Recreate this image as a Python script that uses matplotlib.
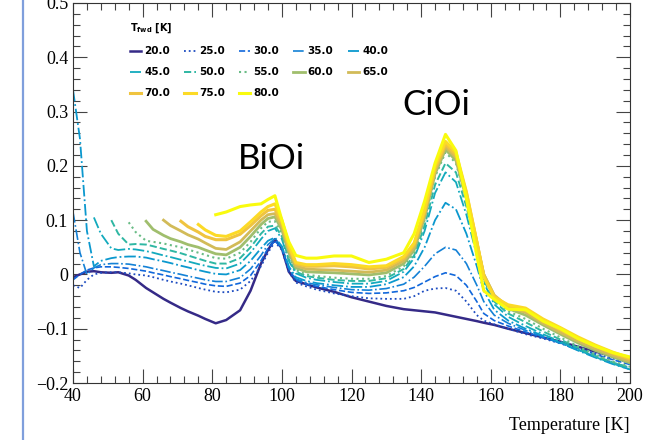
import numpy as np
import matplotlib
matplotlib.use('Agg')
import matplotlib.pyplot as plt
from matplotlib.colors import LinearSegmentedColormap
from matplotlib.lines import Line2D
from matplotlib.ticker import MultipleLocator

nan = np.nan

temps = [40, 42, 44, 46, 48, 51, 53, 56, 58, 61, 63, 66, 68, 71, 73, 76, 78, 81, 84, 88,
         91, 94, 96, 98, 100, 102, 104, 107, 110, 115, 120, 125, 130, 135, 138, 141, 144, 147, 150, 153,
         156, 158, 161, 165, 170, 175, 180, 185, 190, 195, 200]

t_fwd = [20, 25, 30, 35, 40, 45, 50, 55, 60, 65, 70, 75, 80]

s20 = [-0.005, 0.0, 0.005, 0.006, 0.004, 0.003, 0.004, -0.002, -0.01, -0.025, -0.033, -0.045, -0.052, -0.062, -0.068, -0.076, -0.082, -0.09, -0.084, -0.066,
       -0.03, 0.02, 0.045, 0.065, 0.048, 0.005, -0.012, -0.018, -0.024, -0.032, -0.042, -0.05, -0.058, -0.064, -0.066, -0.068, -0.07, -0.074, -0.078, -0.082,
       -0.086, -0.089, -0.093, -0.1, -0.108, -0.116, -0.124, -0.133, -0.142, -0.151, -0.16]
s25 = [-0.02, -0.025, -0.01, 0.0, 0.003, 0.004, 0.004, 0.002, 0.0, -0.002, -0.005, -0.01, -0.013, -0.017, -0.02, -0.025, -0.028, -0.032, -0.033, -0.028,
       -0.012, 0.015, 0.04, 0.06, 0.045, 0.005, -0.015, -0.022, -0.028, -0.035, -0.04, -0.044, -0.045, -0.045, -0.04, -0.03, -0.026, -0.025, -0.03, -0.05,
       -0.075, -0.085, -0.092, -0.1, -0.11, -0.118, -0.127, -0.136, -0.146, -0.155, -0.163]
s30 = [-0.01, 0.0, 0.008, 0.012, 0.014, 0.014, 0.013, 0.011, 0.009, 0.006, 0.003, -0.001, -0.004, -0.008, -0.011, -0.015, -0.018, -0.021, -0.022, -0.016,
       -0.002, 0.025, 0.048, 0.062, 0.048, 0.01, -0.01, -0.018, -0.022, -0.028, -0.033, -0.035, -0.034, -0.03, -0.024, -0.014, -0.004, 0.003, -0.002, -0.02,
       -0.05, -0.072, -0.085, -0.095, -0.106, -0.116, -0.126, -0.136, -0.147, -0.157, -0.166]
s35 = [0.115, 0.04, 0.0, 0.012, 0.018, 0.02, 0.02, 0.019, 0.017, 0.014, 0.011, 0.007, 0.004, 0.0, -0.003, -0.007, -0.01, -0.013, -0.013, -0.006,
       0.01, 0.035, 0.055, 0.066, 0.05, 0.012, -0.008, -0.015, -0.019, -0.024, -0.028, -0.029, -0.026, -0.018, -0.005, 0.015, 0.038, 0.05, 0.045, 0.02,
       -0.02, -0.05, -0.075, -0.09, -0.103, -0.115, -0.127, -0.139, -0.151, -0.162, -0.172]
s40 = [0.34, 0.25, 0.08, 0.015, 0.025, 0.03, 0.032, 0.033, 0.033, 0.031, 0.028, 0.024, 0.021, 0.016, 0.013, 0.008, 0.005, 0.001, 0.0, 0.008,
       0.025, 0.048, 0.062, 0.068, 0.052, 0.015, -0.005, -0.012, -0.016, -0.02, -0.023, -0.023, -0.018, -0.005, 0.015, 0.05, 0.1, 0.132, 0.12, 0.075,
       0.015, -0.03, -0.065, -0.085, -0.1, -0.113, -0.126, -0.14, -0.153, -0.165, -0.175]
s45 = [nan, nan, nan, 0.105, 0.075, 0.048, 0.045, 0.047, 0.046, 0.043, 0.04, 0.035, 0.032, 0.027, 0.024, 0.019, 0.016, 0.012, 0.011, 0.02,
       0.04, 0.065, 0.08, 0.085, 0.065, 0.025, 0.002, -0.006, -0.01, -0.014, -0.017, -0.017, -0.012, 0.005, 0.03, 0.08, 0.15, 0.188, 0.17, 0.11,
       0.035, -0.015, -0.055, -0.078, -0.095, -0.11, -0.124, -0.138, -0.152, -0.164, -0.175]
s50 = [nan, nan, nan, nan, nan, 0.1, 0.075, 0.055, 0.056, 0.055, 0.052, 0.047, 0.044, 0.039, 0.035, 0.029, 0.025, 0.02, 0.02, 0.03,
       0.05, 0.075, 0.088, 0.09, 0.07, 0.028, 0.005, -0.003, -0.006, -0.01, -0.012, -0.012, -0.007, 0.01, 0.035, 0.09, 0.165, 0.205, 0.188, 0.125,
       0.045, -0.01, -0.05, -0.072, -0.088, -0.105, -0.12, -0.135, -0.15, -0.162, -0.172]
s55 = [nan, nan, nan, nan, nan, nan, nan, 0.096, 0.078, 0.062, 0.06, 0.057, 0.054, 0.05, 0.046, 0.04, 0.036, 0.03, 0.029, 0.04,
       0.06, 0.085, 0.097, 0.098, 0.076, 0.032, 0.008, 0.0, -0.003, -0.006, -0.008, -0.008, -0.003, 0.015, 0.04, 0.1, 0.18, 0.225, 0.205, 0.135,
       0.05, -0.005, -0.045, -0.068, -0.082, -0.1, -0.116, -0.132, -0.147, -0.16, -0.17]
s60 = [nan, nan, nan, nan, nan, nan, nan, nan, nan, 0.098, 0.083, 0.072, 0.066, 0.06, 0.055, 0.05, 0.045, 0.038, 0.036, 0.05,
       0.07, 0.092, 0.103, 0.106, 0.082, 0.04, 0.012, 0.005, 0.004, 0.003, 0.001, -0.001, 0.003, 0.02, 0.045, 0.105, 0.185, 0.23, 0.21, 0.14,
       0.055, 0.0, -0.04, -0.063, -0.075, -0.093, -0.11, -0.126, -0.14, -0.152, -0.163]
s65 = [nan, nan, nan, nan, nan, nan, nan, nan, nan, nan, nan, 0.1, 0.09, 0.08, 0.073, 0.065, 0.058, 0.048, 0.046, 0.06,
       0.08, 0.1, 0.11, 0.112, 0.088, 0.045, 0.016, 0.01, 0.009, 0.008, 0.006, 0.004, 0.008, 0.025, 0.05, 0.11, 0.19, 0.235, 0.215, 0.145,
       0.06, 0.0, -0.038, -0.06, -0.07, -0.09, -0.107, -0.123, -0.137, -0.149, -0.16]
s70 = [nan, nan, nan, nan, nan, nan, nan, nan, nan, nan, nan, nan, nan, 0.098, 0.088, 0.078, 0.07, 0.064, 0.064, 0.074,
       0.09, 0.108, 0.118, 0.12, 0.095, 0.05, 0.02, 0.015, 0.015, 0.016, 0.014, 0.01, 0.013, 0.03, 0.055, 0.115, 0.195, 0.24, 0.22, 0.15,
       0.06, -0.002, -0.04, -0.058, -0.066, -0.085, -0.102, -0.118, -0.132, -0.145, -0.156]
s75 = [nan, nan, nan, nan, nan, nan, nan, nan, nan, nan, nan, nan, nan, nan, nan, 0.092, 0.082, 0.072, 0.07, 0.08,
       0.097, 0.115, 0.125, 0.13, 0.1, 0.055, 0.022, 0.018, 0.018, 0.02, 0.018, 0.014, 0.016, 0.033, 0.058, 0.12, 0.2, 0.245, 0.225, 0.152,
       0.06, -0.005, -0.042, -0.056, -0.062, -0.082, -0.098, -0.115, -0.13, -0.143, -0.154]
s80 = [nan, nan, nan, nan, nan, nan, nan, nan, nan, nan, nan, nan, nan, nan, nan, nan, nan, 0.11, 0.115, 0.125,
       0.128, 0.13, 0.138, 0.145, 0.1, 0.06, 0.035, 0.03, 0.03, 0.034, 0.034, 0.022, 0.028, 0.04, 0.075, 0.135, 0.205, 0.258, 0.228, 0.14,
       0.035, -0.03, -0.046, -0.064, -0.065, -0.086, -0.1, -0.118, -0.132, -0.144, -0.152]

series = [s20, s25, s30, s35, s40, s45, s50, s55, s60, s65, s70, s75, s80]

# ROOT kBird palette
bird = LinearSegmentedColormap.from_list('bird', [
    (0.2082, 0.1664, 0.5293), (0.0592, 0.3599, 0.8684), (0.0780, 0.5041, 0.8385),
    (0.0232, 0.6419, 0.7914), (0.1802, 0.7178, 0.6425), (0.5301, 0.7492, 0.4662),
    (0.8186, 0.7328, 0.3499), (0.9956, 0.7862, 0.1968), (0.9764, 0.9832, 0.0539)])

styles = ['-', ':', '--', '-.', '-.', '-.', '--', ':', '-', '-', '-', '-', '-']
widths = [1.8, 1.3, 1.2, 1.2, 1.3, 1.3, 1.4, 1.5, 2.0, 2.0, 2.2, 2.2, 2.2]

plt.rcParams['font.family'] = 'Liberation Serif'

fig = plt.figure(figsize=(6.52, 4.4), dpi=100)
ax = fig.add_axes([73 / 652, 1 - 383 / 440, (630 - 73) / 652, 380 / 440])

lines = []
for i, t in enumerate(t_fwd):
    ln, = ax.plot(temps, series[i], ls=styles[i], lw=widths[i], color=bird(i / 12), label=f'{t:.1f}')
    lines.append(ln)

ax.set_xlim(40, 200)
ax.set_ylim(-0.2, 0.5)
ax.xaxis.set_major_locator(MultipleLocator(20))
ax.xaxis.set_minor_locator(MultipleLocator(4))
ax.yaxis.set_major_locator(MultipleLocator(0.1))
ax.yaxis.set_minor_locator(MultipleLocator(0.02))
ax.tick_params(which='both', direction='in', top=True, right=True, labelsize=13, color='#444444')
ax.tick_params(which='major', length=10, width=0.8)
ax.tick_params(which='minor', length=5, width=0.8)
ax.yaxis.set_major_formatter(matplotlib.ticker.FuncFormatter(
    lambda v, p: '0' if abs(v) < 1e-9 else ('%.1f' % v).replace('-', '\u2212')))
ax.xaxis.set_major_formatter(matplotlib.ticker.FuncFormatter(lambda v, p: '%d' % v))
for sp in ax.spines.values():
    sp.set_linewidth(0.8)
    sp.set_color('#333333')
ax.set_xlabel('Temperature [K]', fontsize=13, loc='right', labelpad=9)

# legend filled row by row like the original
order = [0, 5, 10, 1, 6, 11, 2, 7, 12, 3, 8, 4, 9]
leg = ax.legend([lines[k] for k in order], [lines[k].get_label() for k in order],
                ncol=5, frameon=False, loc='upper left', bbox_to_anchor=(0.085, 0.975),
                title=r'$\mathbf{T_{fwd}}$ [K]', alignment='left',
                prop={'family': 'DejaVu Sans', 'weight': 'bold', 'size': 7.5},
                title_fontproperties={'family': 'DejaVu Sans', 'weight': 'bold', 'size': 7},
                handlelength=1.1, handletextpad=0.3, columnspacing=1.35, labelspacing=1.05)

ax.text(97, 0.212, 'BiOi', fontsize=25, family='Lato', ha='center', va='center')
ax.text(144.5, 0.313, 'CiOi', fontsize=25, family='Lato', ha='center', va='center')

fig.add_artist(Line2D([23 / 652, 23 / 652], [0, 1], transform=fig.transFigure, color='#7f9fdc', lw=1.6))

fig.savefig('out.png', dpi=100)
